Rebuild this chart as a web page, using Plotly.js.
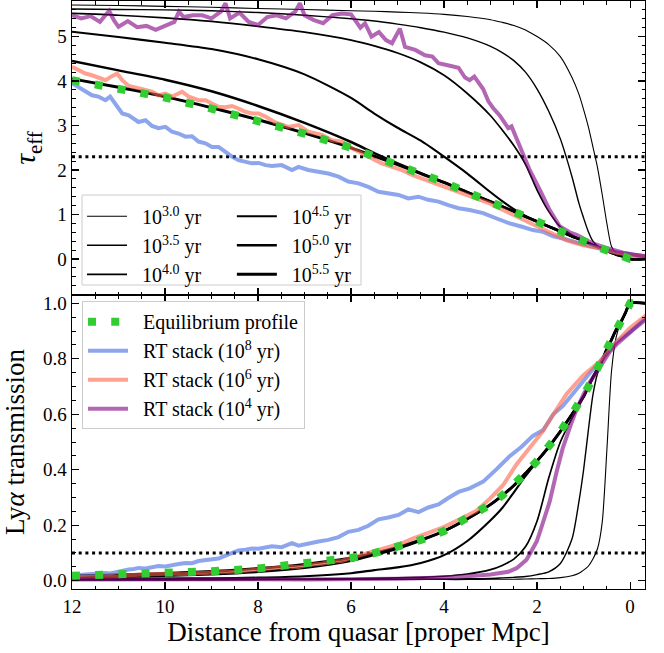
<!DOCTYPE html>
<html>
<head>
<meta charset="utf-8">
<script src="https://cdn.plot.ly/plotly-3.0.1.min.js"></script>
<style>html,body{margin:0;padding:0;background:#fff;}</style>
</head>
<body>
<div id="chart" style="width:664px;height:653px;"></div>
<script>
// ---------------- data ----------------
// distance grid used for the model curves [proper Mpc]
const dModel = [12, 11, 10, 9, 8, 7, 6, 5.5, 5, 4.5, 4, 3.5, 3, 2.75, 2.5, 2.25, 2, 1.75, 1.5, 1.25, 1.1, 1.0, 0.9, 0.8, 0.7, 0.6, 0.5, 0.4, 0.3, 0.2, 0.1, 0, -0.35];

// model tau_eff profiles, top panel
const tau30 = [5.71, 5.70, 5.68, 5.66, 5.63, 5.61, 5.58, 5.57, 5.55, 5.53, 5.50, 5.45, 5.38, 5.32, 5.25, 5.15, 5.00, 4.82, 4.55, 4.08, 3.70, 3.36, 2.98, 2.52, 2.05, 1.45, 0.80, 0.28, 0.13, 0.07, 0.035, 0.0, 0.0];
const tau35 = [5.62, 5.61, 5.60, 5.58, 5.54, 5.48, 5.40, 5.35, 5.28, 5.20, 5.10, 4.97, 4.78, 4.64, 4.46, 4.20, 3.82, 3.32, 2.70, 1.85, 1.25, 0.92, 0.62, 0.40, 0.29, 0.23, 0.18, 0.14, 0.10, 0.07, 0.035, 0.0, 0.0];
const tau40 = [5.52, 5.48, 5.42, 5.34, 5.23, 5.10, 4.92, 4.79, 4.63, 4.42, 4.13, 3.72, 3.22, 2.90, 2.55, 2.13, 1.55, 1.07, 0.72, 0.54, 0.46, 0.41, 0.36, 0.31, 0.27, 0.23, 0.18, 0.14, 0.10, 0.07, 0.035, 0.0, 0.0];
const tau45 = [5.11, 4.99, 4.86, 4.72, 4.49, 4.15, 3.62, 3.27, 2.95, 2.66, 2.30, 1.92, 1.50, 1.30, 1.12, 0.97, 0.85, 0.73, 0.62, 0.51, 0.45, 0.41, 0.36, 0.31, 0.27, 0.23, 0.18, 0.14, 0.10, 0.07, 0.035, 0.0, 0.0];
const tau50 = [4.45, 4.24, 4.03, 3.77, 3.44, 3.06, 2.63, 2.38, 2.15, 1.93, 1.72, 1.50, 1.29, 1.18, 1.07, 0.95, 0.84, 0.73, 0.62, 0.51, 0.45, 0.41, 0.36, 0.31, 0.27, 0.23, 0.18, 0.14, 0.10, 0.07, 0.035, 0.0, 0.0];
const tau55 = [4.05, 3.86, 3.65, 3.40, 3.13, 2.83, 2.50, 2.31, 2.12, 1.92, 1.72, 1.50, 1.29, 1.18, 1.07, 0.95, 0.84, 0.73, 0.62, 0.51, 0.45, 0.41, 0.36, 0.31, 0.27, 0.23, 0.18, 0.14, 0.10, 0.07, 0.035, 0.0, 0.0];
const tauEq = [4.02, 3.84, 3.63, 3.38, 3.12, 2.82, 2.50, 2.31, 2.12, 1.92, 1.72, 1.50, 1.29, 1.18, 1.07, 0.95, 0.84, 0.73, 0.62, 0.51, 0.45, 0.41, 0.36, 0.31, 0.27, 0.23, 0.18, 0.14, 0.10, 0.07, 0.035, 0.0, 0.0];

// model Lya transmission profiles, bottom panel
const T30 = [0.003, 0.003, 0.003, 0.003, 0.004, 0.004, 0.004, 0.004, 0.004, 0.004, 0.004, 0.004, 0.005, 0.005, 0.005, 0.006, 0.007, 0.008, 0.011, 0.018, 0.027, 0.038, 0.052, 0.078, 0.116, 0.21, 0.47, 0.755, 0.878, 0.932, 0.966, 1.0, 1.0];
const T35 = [0.004, 0.004, 0.004, 0.004, 0.004, 0.004, 0.005, 0.005, 0.005, 0.006, 0.006, 0.007, 0.008, 0.010, 0.012, 0.015, 0.022, 0.032, 0.062, 0.15, 0.286, 0.40, 0.54, 0.67, 0.748, 0.795, 0.835, 0.869, 0.905, 0.932, 0.966, 1.0, 1.0];
const T40 = [0.004, 0.004, 0.004, 0.005, 0.005, 0.006, 0.007, 0.008, 0.010, 0.012, 0.016, 0.024, 0.040, 0.055, 0.078, 0.122, 0.215, 0.37, 0.50, 0.585, 0.63, 0.664, 0.698, 0.733, 0.763, 0.795, 0.835, 0.869, 0.905, 0.932, 0.966, 1.0, 1.0];
const T45 = [0.006, 0.007, 0.008, 0.009, 0.011, 0.016, 0.027, 0.038, 0.048, 0.064, 0.092, 0.143, 0.218, 0.262, 0.318, 0.377, 0.430, 0.482, 0.538, 0.600, 0.638, 0.664, 0.698, 0.733, 0.763, 0.795, 0.835, 0.869, 0.905, 0.932, 0.966, 1.0, 1.0];
const T50 = [0.012, 0.014, 0.018, 0.023, 0.032, 0.047, 0.072, 0.093, 0.116, 0.145, 0.179, 0.223, 0.275, 0.307, 0.343, 0.387, 0.432, 0.482, 0.538, 0.600, 0.638, 0.664, 0.698, 0.733, 0.763, 0.795, 0.835, 0.869, 0.905, 0.932, 0.966, 1.0, 1.0];
const T55 = [0.017, 0.021, 0.026, 0.033, 0.044, 0.059, 0.082, 0.099, 0.120, 0.147, 0.179, 0.223, 0.275, 0.307, 0.343, 0.387, 0.432, 0.482, 0.538, 0.600, 0.638, 0.664, 0.698, 0.733, 0.763, 0.795, 0.835, 0.869, 0.905, 0.932, 0.966, 1.0, 1.0];
const TEq = [0.018, 0.021, 0.027, 0.034, 0.044, 0.060, 0.082, 0.099, 0.120, 0.147, 0.179, 0.223, 0.275, 0.307, 0.343, 0.387, 0.432, 0.482, 0.538, 0.600, 0.638, 0.664, 0.698, 0.733, 0.763, 0.795, 0.835, 0.869, 0.905, 0.932, 0.966, 1.0, 1.0];

const modelLabels = ['10<sup>3.0</sup> yr', '10<sup>3.5</sup> yr', '10<sup>4.0</sup> yr', '10<sup>4.5</sup> yr', '10<sup>5.0</sup> yr', '10<sup>5.5</sup> yr'];

// RT stack, 10^8 yr (blue)
const dBlue = [12.0, 11.86, 11.71, 11.57, 11.43, 11.28, 11.18, 11.07, 10.92, 10.78, 10.67, 10.57, 10.42, 10.28, 10.14, 9.99, 9.85, 9.71, 9.56, 9.42, 9.28, 9.13, 8.99, 8.85, 8.70, 8.56, 8.42, 8.27, 8.13, 7.99, 7.84, 7.70, 7.49, 7.27, 7.13, 6.92, 6.70, 6.49, 6.27, 6.06, 5.84, 5.63, 5.41, 5.20, 4.98, 4.77, 4.55, 4.34, 4.12, 3.91, 3.69, 3.45, 3.16, 2.87, 2.59, 2.34, 2.09, 1.87, 1.65, 1.44, 1.15, 0.87, 0.58, 0.29, 0.01, -0.35];
const tauBlue = [3.95, 3.86, 3.76, 3.68, 3.65, 3.57, 3.65, 3.50, 3.27, 3.23, 3.16, 3.08, 3.12, 2.99, 2.94, 2.97, 2.86, 2.82, 2.75, 2.76, 2.64, 2.60, 2.52, 2.52, 2.41, 2.30, 2.22, 2.19, 2.15, 2.16, 2.11, 2.09, 2.11, 2.00, 2.07, 2.00, 1.96, 1.92, 1.85, 1.74, 1.70, 1.62, 1.51, 1.48, 1.44, 1.36, 1.40, 1.33, 1.29, 1.21, 1.14, 1.10, 1.03, 0.91, 0.80, 0.73, 0.65, 0.61, 0.51, 0.46, 0.37, 0.29, 0.22, 0.15, 0.11, 0.05];
const TBlue = [0.019, 0.021, 0.023, 0.025, 0.026, 0.028, 0.026, 0.030, 0.038, 0.040, 0.042, 0.046, 0.044, 0.050, 0.053, 0.051, 0.057, 0.060, 0.064, 0.063, 0.071, 0.074, 0.080, 0.080, 0.090, 0.100, 0.109, 0.112, 0.116, 0.115, 0.121, 0.124, 0.121, 0.135, 0.126, 0.135, 0.141, 0.147, 0.157, 0.176, 0.183, 0.198, 0.221, 0.228, 0.237, 0.257, 0.247, 0.264, 0.275, 0.298, 0.320, 0.333, 0.357, 0.402, 0.449, 0.482, 0.522, 0.543, 0.600, 0.631, 0.691, 0.748, 0.803, 0.861, 0.896, 0.951];

// RT stack, 10^6 yr (salmon)
const dSalmon = [12.0, 11.86, 11.71, 11.57, 11.43, 11.28, 11.14, 11.03, 10.92, 10.78, 10.57, 10.42, 10.28, 10.14, 9.99, 9.85, 9.63, 9.49, 9.28, 9.13, 8.99, 8.85, 8.70, 8.56, 8.42, 8.27, 8.13, 7.99, 7.84, 7.63, 7.35, 7.13, 6.92, 6.63, 6.41, 6.20, 5.98, 5.77, 5.55, 5.34, 5.12, 4.91, 4.69, 4.48, 4.26, 4.05, 3.83, 3.59, 3.30, 3.02, 2.73, 2.44, 2.16, 1.87, 1.65, 1.37, 1.01, 0.65, 0.29, 0.01, -0.35];
const tauSalmon = [4.32, 4.25, 4.17, 4.13, 4.08, 4.02, 4.11, 4.17, 4.02, 3.89, 3.84, 3.80, 3.76, 3.68, 3.72, 3.65, 3.76, 3.65, 3.57, 3.57, 3.49, 3.42, 3.41, 3.44, 3.38, 3.31, 3.27, 3.27, 3.20, 3.07, 2.97, 3.01, 2.86, 2.79, 2.67, 2.64, 2.49, 2.38, 2.26, 2.15, 2.07, 2.00, 1.89, 1.81, 1.74, 1.66, 1.57, 1.48, 1.38, 1.25, 1.10, 0.95, 0.81, 0.67, 0.55, 0.42, 0.31, 0.24, 0.14, 0.09, 0.05];
const TSalmon = [0.013, 0.014, 0.015, 0.016, 0.017, 0.018, 0.016, 0.015, 0.018, 0.020, 0.021, 0.022, 0.023, 0.025, 0.024, 0.026, 0.023, 0.026, 0.028, 0.028, 0.030, 0.033, 0.033, 0.032, 0.034, 0.037, 0.038, 0.038, 0.041, 0.046, 0.051, 0.049, 0.057, 0.061, 0.069, 0.071, 0.083, 0.093, 0.104, 0.116, 0.126, 0.135, 0.151, 0.164, 0.176, 0.190, 0.208, 0.228, 0.252, 0.295, 0.345, 0.42, 0.48, 0.54, 0.60, 0.672, 0.740, 0.79, 0.862, 0.91, 0.958];

// RT stack, 10^4 yr (purple)
const dPurple = [12.0, 11.8, 11.6, 11.4, 11.2, 11.1, 11.0, 10.8, 10.6, 10.4, 10.2, 10.0, 9.8, 9.7, 9.6, 9.4, 9.2, 9.0, 8.8, 8.7, 8.6, 8.4, 8.2, 8.0, 7.8, 7.6, 7.4, 7.2, 7.1, 7.0, 6.8, 6.6, 6.4, 6.2, 6.0, 5.8, 5.7, 5.56, 5.4, 5.25, 5.12, 4.95, 4.84, 4.62, 4.41, 4.25, 4.12, 3.9, 3.69, 3.55, 3.45, 3.35, 3.16, 3.05, 2.95, 2.80, 2.62, 2.55, 2.37, 2.16, 1.94, 1.73, 1.51, 1.30, 1.15, 0.97, 0.80, 0.58, 0.37, 0.15, -0.06, -0.35];
const tauPurple = [5.48, 5.41, 5.46, 5.33, 5.58, 5.37, 5.22, 5.35, 5.21, 5.24, 5.15, 5.24, 5.33, 5.56, 5.44, 5.48, 5.48, 5.41, 5.56, 5.75, 5.41, 5.54, 5.33, 5.26, 5.44, 5.48, 5.41, 5.56, 5.75, 5.48, 5.37, 5.30, 5.48, 5.52, 5.50, 5.20, 5.30, 5.00, 5.10, 4.92, 4.85, 5.18, 4.77, 4.70, 4.58, 4.55, 4.40, 4.35, 4.30, 4.08, 4.02, 4.10, 3.82, 3.55, 3.40, 3.22, 2.94, 2.98, 2.52, 2.00, 1.55, 1.10, 0.73, 0.60, 0.54, 0.43, 0.35, 0.27, 0.20, 0.14, 0.10, 0.06];
const dPurpleB = [12.0, 11.0, 10.0, 9.0, 8.0, 7.0, 6.0, 5.0, 4.5, 4.0, 3.5, 3.0, 2.8, 2.62, 2.44, 2.37, 2.23, 2.16, 2.01, 1.94, 1.87, 1.73, 1.58, 1.45, 1.30, 1.16, 1.02, 0.87, 0.72, 0.58, 0.44, 0.29, 0.15, -0.06, -0.35];
const TPurple = [0.004, 0.005, 0.005, 0.004, 0.005, 0.004, 0.004, 0.007, 0.009, 0.012, 0.016, 0.022, 0.026, 0.032, 0.045, 0.055, 0.075, 0.095, 0.141, 0.175, 0.213, 0.285, 0.393, 0.477, 0.55, 0.615, 0.665, 0.715, 0.752, 0.79, 0.825, 0.852, 0.874, 0.904, 0.943];

const stackLabels = ['RT stack (10<sup>8</sup> yr)', 'RT stack (10<sup>6</sup> yr)', 'RT stack (10<sup>4</sup> yr)'];
const eqLabel = 'Equilibrium profile';

// horizontal reference levels
const tauThreshold = [2.3];
const transThreshold = [0.1];

// x tick values
const xTicks = [12, 10, 8, 6, 4, 2, 0];

// ---------------- styles ----------------
const FONT = 'Liberation Serif, Times New Roman, serif';
const GAP = '\u00A0\u00A0';   // spacing between legend sample and its text
const modelWidths = [1.1, 1.4, 1.7, 2.1, 2.5, 2.9];
const cBlue = 'rgba(65,105,225,0.6)';
const cSalmon = 'rgba(255,99,71,0.6)';
const cPurple = 'rgba(128,0,128,0.6)';
const cGreen = 'rgb(50,205,50)';
const eqDash = '8px,15.2px';

const tauModels = [tau30, tau35, tau40, tau45, tau50, tau55];
const TModels = [T30, T35, T40, T45, T50, T55];

const traces = [];
// model curves, top panel (legend in two columns)
tauModels.forEach((arr, i) => {
  traces.push({
    x: dModel, y: arr, xaxis: 'x2', yaxis: 'y2', type: 'scatter', mode: 'lines',
    line: {color: 'black', width: modelWidths[i], shape: 'spline', smoothing: 0.7},
    name: GAP + modelLabels[i], legend: i < 3 ? 'legend' : 'legend2', legendrank: i + 1,
    hoverinfo: 'skip'
  });
});
// model curves, bottom panel
TModels.forEach((arr, i) => {
  traces.push({
    x: dModel, y: arr, xaxis: 'x', yaxis: 'y', type: 'scatter', mode: 'lines',
    line: {color: 'black', width: modelWidths[i], shape: 'spline', smoothing: 0.7},
    showlegend: false, hoverinfo: 'skip'
  });
});
// RT stacks
const stacks = [
  [dBlue, tauBlue, dBlue, TBlue, cBlue],
  [dSalmon, tauSalmon, dSalmon, TSalmon, cSalmon],
  [dPurple, tauPurple, dPurpleB, TPurple, cPurple]
];
stacks.forEach((s, i) => {
  traces.push({
    x: s[0], y: s[1], xaxis: 'x2', yaxis: 'y2', type: 'scatter', mode: 'lines',
    line: {color: s[4], width: 4}, showlegend: false, hoverinfo: 'skip'
  });
  traces.push({
    x: s[2], y: s[3], xaxis: 'x', yaxis: 'y', type: 'scatter', mode: 'lines',
    line: {color: s[4], width: 4}, name: GAP + stackLabels[i], legend: 'legend3', legendrank: i + 2,
    hoverinfo: 'skip'
  });
});
// equilibrium profile (dotted squares)
traces.push({
  x: dModel, y: tauEq, xaxis: 'x2', yaxis: 'y2', type: 'scatter', mode: 'lines',
  line: {color: cGreen, width: 8, dash: eqDash}, showlegend: false, hoverinfo: 'skip'
});
traces.push({
  x: dModel, y: TEq, xaxis: 'x', yaxis: 'y', type: 'scatter', mode: 'lines',
  line: {color: cGreen, width: 8, dash: eqDash}, name: GAP + eqLabel, legend: 'legend3', legendrank: 1,
  hoverinfo: 'skip'
});

const baseAxis = {
  showline: true, linecolor: 'black', linewidth: 1.4, mirror: 'ticks',
  ticks: 'inside', ticklen: 7, tickwidth: 1.2, tickcolor: 'black',
  showgrid: false, zeroline: false,
  tickfont: {family: FONT, size: 19, color: 'black'}
};
const minorStyle = {ticks: 'inside', ticklen: 3.5, tickwidth: 1, tickcolor: 'black'};

const layout = {
  width: 664, height: 653,
  margin: {l: 72, r: 19, t: 1, b: 64},
  paper_bgcolor: 'white', plot_bgcolor: 'white',
  font: {family: FONT, size: 19, color: 'black'},
  xaxis: Object.assign({}, baseAxis, {
    domain: [0, 1], anchor: 'y', range: [12.0, -0.32], tickvals: xTicks,
    minor: Object.assign({dtick: 0.5}, minorStyle),
    title: {text: 'Distance from quasar [proper Mpc]', font: {family: FONT, size: 27}, standoff: 6}
  }),
  xaxis2: Object.assign({}, baseAxis, {
    domain: [0, 1], anchor: 'y2', matches: 'x', range: [12.0, -0.32], tickvals: xTicks,
    showticklabels: false,
    minor: Object.assign({dtick: 0.5}, minorStyle)
  }),
  yaxis: Object.assign({}, baseAxis, {
    domain: [0, 0.5], anchor: 'x', range: [-0.03, 1.03], dtick: 0.2, tick0: 0, tickformat: '.1f',
    minor: Object.assign({dtick: 0.05}, minorStyle),
    title: {text: 'Ly<i>α</i> transmission', font: {family: FONT, size: 27}, standoff: 10}
  }),
  yaxis2: Object.assign({}, baseAxis, {
    domain: [0.5, 1], anchor: 'x2', range: [-0.81, 5.80], dtick: 1, tick0: 0,
    minor: Object.assign({dtick: 0.2}, minorStyle),
    title: {text: '<i>τ</i><sub>eff</sub>', font: {family: FONT, size: 30}, standoff: 12}
  }),
  legend: {
    x: 0.0175, y: 0.667, xanchor: 'left', yanchor: 'top', bgcolor: 'rgba(0,0,0,0)',
    borderwidth: 0, font: {family: FONT, size: 20}, itemwidth: 40, tracegroupgap: 0
  },
  legend2: {
    x: 0.279, y: 0.667, xanchor: 'left', yanchor: 'top', bgcolor: 'rgba(0,0,0,0)',
    borderwidth: 0, font: {family: FONT, size: 20}, itemwidth: 40, tracegroupgap: 0
  },
  legend3: {
    x: 0.0175, y: 0.4895, xanchor: 'left', yanchor: 'top', bgcolor: 'rgba(255,255,255,0.8)',
    bordercolor: '#cccccc', borderwidth: 1, font: {family: FONT, size: 20}, itemwidth: 40, tracegroupgap: 0
  },
  shapes: [
    {type: 'line', xref: 'x2 domain', x0: 0, x1: 1, yref: 'y2', y0: tauThreshold[0], y1: tauThreshold[0],
     line: {color: 'black', width: 3, dash: '3px,3.7px'}, layer: 'below'},
    {type: 'line', xref: 'x domain', x0: 0, x1: 1, yref: 'y', y0: transThreshold[0], y1: transThreshold[0],
     line: {color: 'black', width: 3, dash: '3px,3.7px'}, layer: 'below'},
    {type: 'rect', xref: 'paper', yref: 'paper', x0: 0.0175, x1: 0.5044, y0: 0.517, y1: 0.670,
     line: {color: '#cccccc', width: 1}, fillcolor: 'rgba(255,255,255,0.8)', layer: 'above'}
  ],
  showlegend: true
};

Plotly.newPlot('chart', traces, layout, {displayModeBar: false, staticPlot: true});
</script>
</body>
</html>
